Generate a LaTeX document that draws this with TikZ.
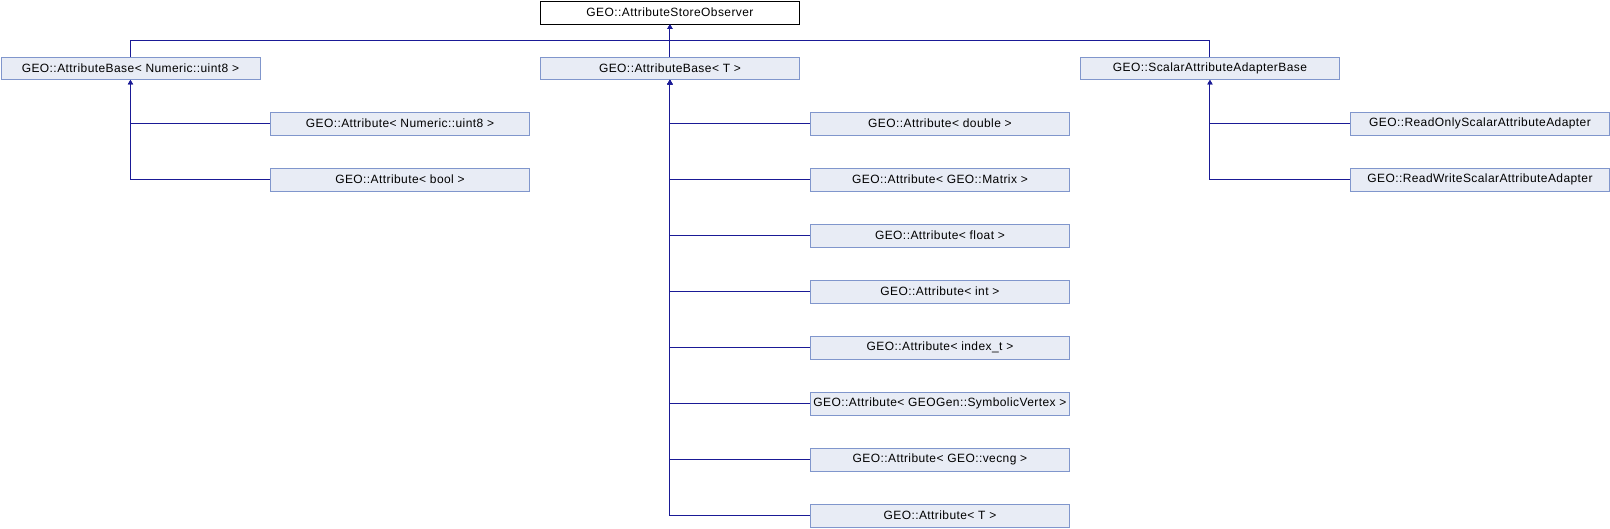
\documentclass[tikz,border=0pt]{standalone}
\usepackage{fontspec}
\setmainfont[LetterSpace=3.5]{Liberation Sans}
\usetikzlibrary{arrows.meta}
\definecolor{boxfill}{RGB}{232,236,245}
\definecolor{boxline}{RGB}{128,150,204}
\definecolor{conncol}{RGB}{26,26,150}
\tikzset{
  cls/.style={draw=boxline, fill=boxfill, line width=0.9pt, minimum width=259pt, minimum height=22.5pt, inner sep=0pt, anchor=north west, font=\fontsize{12}{14}\selectfont},
  rootcls/.style={cls, draw=black, fill=white},
  conn/.style={draw=conncol, line width=1pt, -{Triangle[length=4.5pt,width=5pt]}},
}
\begin{document}
\begin{tikzpicture}[x=1pt,y=-1pt]
\useasboundingbox (0,0) rectangle (1610,528);
% root
\node[rootcls] (root) at (540,1) {GEO::AttributeStoreObserver};
% row 1
\node[cls] (bu8) at (0.5,56.5) {GEO::AttributeBase< Numeric::uint8 >};
\node[cls] (bT) at (540,56.5) {GEO::AttributeBase< T >};
\node[cls] (sab) at (1080,56.5) {GEO::ScalarAttributeAdapterBase};
% left children
\node[cls] (au8) at (270,112) {GEO::Attribute< Numeric::uint8 >};
\node[cls] (abool) at (270,168) {GEO::Attribute< bool >};
% middle children
\node[cls] (adouble) at (810,112) {GEO::Attribute< double >};
\node[cls] (amatrix) at (810,168) {GEO::Attribute< GEO::Matrix >};
\node[cls] (afloat) at (810,224) {GEO::Attribute< float >};
\node[cls] (aint) at (810,280) {GEO::Attribute< int >};
\node[cls] (aindex) at (810,336) {GEO::Attribute< index\_t >};
\node[cls] (asym) at (810,392) {GEO::Attribute< GEOGen::SymbolicVertex >};
\node[cls] (avec) at (810,448) {GEO::Attribute< GEO::vecng >};
\node[cls] (aT) at (810,504) {GEO::Attribute< T >};
% right children
\node[cls] (ro) at (1350,112) {GEO::ReadOnlyScalarAttributeAdapter};
\node[cls] (rw) at (1350,168) {GEO::ReadWriteScalarAttributeAdapter};
% bus
\coordinate (bus) at (root.south |- 0,40);
\draw[conn] (bu8.north) |- (bus) -- (root.south);
\draw[conn] (sab.north) |- (bus) -- (root.south);
\draw[conn] (bT.north) -- (root.south);
% children connectors
\foreach \c in {au8,abool} \draw[conn] (\c.west) -| (bu8.south);
\foreach \c in {adouble,amatrix,afloat,aint,aindex,asym,avec,aT} \draw[conn] (\c.west) -| (bT.south);
\foreach \c in {ro,rw} \draw[conn] (\c.west) -| (sab.south);
\end{tikzpicture}
\end{document}
